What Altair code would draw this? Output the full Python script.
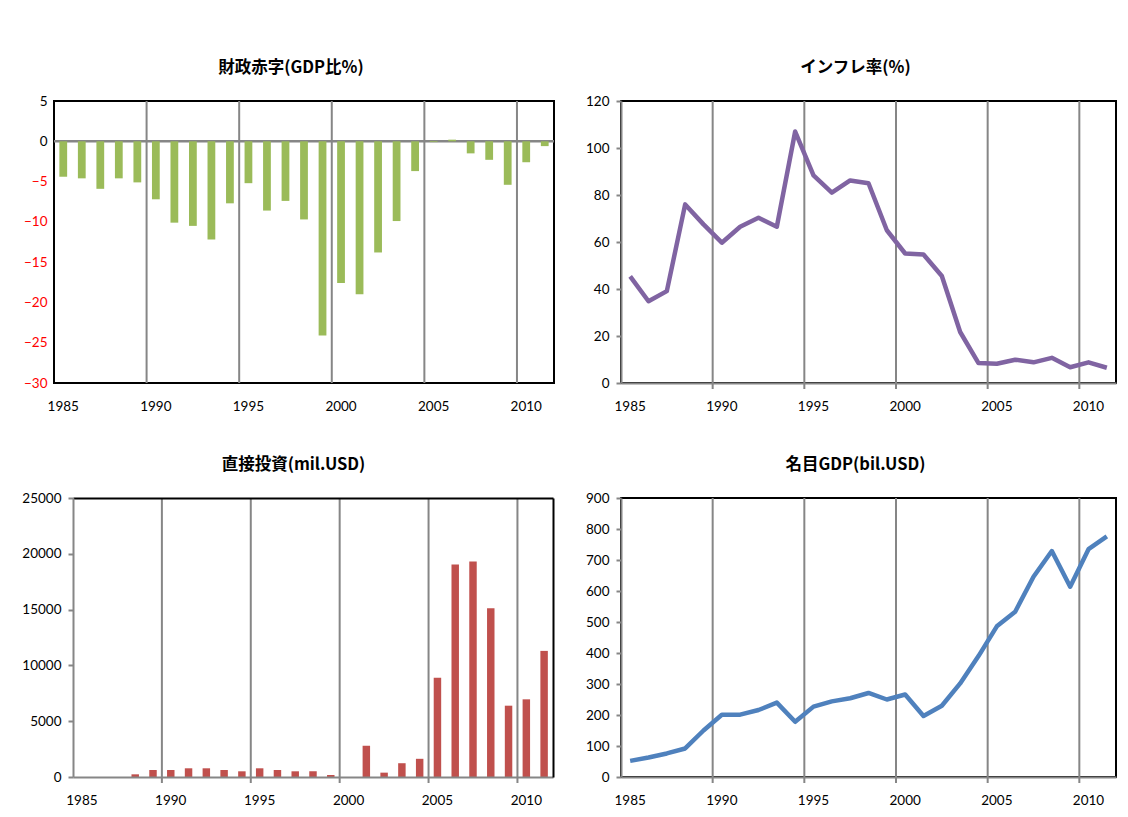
import altair as alt
import pandas as pd

years = list(range(1985, 2012))
deficit = [-4.4, -4.6, -5.9, -4.6, -5.1, -7.2, -10.1, -10.5, -12.2, -7.7, -5.2, -8.6, -7.4, -9.7,
           -24.1, -17.6, -19.0, -13.8, -9.9, -3.7, -0.1, 0.2, -1.5, -2.3, -5.4, -2.6, -0.6]
inflation = [45.4, 34.8, 39.1, 76.0, 67.5, 59.7, 66.5, 70.3, 66.5, 107.0, 88.4, 81.0, 86.2, 85.0,
             65.0, 55.1, 54.7, 45.5, 21.7, 8.5, 8.2, 9.9, 8.8, 10.7, 6.7, 8.8, 6.5]
fdi = [0, 0, 0, 240, 630, 630, 780, 780, 630, 510, 780, 630, 510, 510,
       180, 0, 2800, 390, 1235, 1630, 8890, 19040, 19310, 15120, 6390, 6960, 11300]
gdp = [52, 63, 76, 92, 150, 201, 201, 216, 240, 178, 227, 244, 254, 271,
       250, 266, 197, 230, 302, 390, 486, 533, 646, 729, 614, 735, 776]
grid_years = [1990, 1995, 2000, 2005, 2010]
label_years = [1985, 1990, 1995, 2000, 2005, 2010]
titles = ["財政赤字(GDP比%)", "インフレ率(%)", "直接投資(mil.USD)", "名目GDP(bil.USD)"]

GRAY = "#868686"
LABEL_FONT = "Lato"
TITLE_FONT = "Noto Sans CJK JP"
TICK_PX = 6  # length of the Excel-style tick stub below the category axis


def make_panel(values, kind, color, domain, step, width, height, title, yext,
               neg_red=False, zero_axis=False, shift=0, title_dx=0):
    df = pd.DataFrame({"year": years, "v": values})
    if shift:
        xscale = alt.Scale(type="band", domain=years, paddingInner=0, paddingOuter=0,
                           range=[shift, width])
    else:
        xscale = alt.Scale(type="band", domain=years, paddingInner=0, paddingOuter=0)
    xaxis = alt.Axis(values=label_years, labelAngle=0, title=None, ticks=False, tickSize=0,
                     grid=False, domain=not zero_axis, domainColor=GRAY, domainWidth=2,
                     labelPadding=16, minExtent=32, maxExtent=32, labelFont=LABEL_FONT,
                     labelFontSize=13.5, labelColor="black", zindex=1)
    ylabel_color = (alt.condition("datum.value < 0", alt.value("red"), alt.value("black"))
                    if neg_red else "black")
    yaxis_kw = dict(values=list(range(domain[0], domain[1] + 1, step)), format="d", title=None,
                    grid=False, domain=not zero_axis, ticks=not zero_axis, tickSize=5,
                    tickColor=GRAY, tickWidth=2, domainColor=GRAY, domainWidth=2,
                    labelPadding=7, labelFont=LABEL_FONT,
                    labelFontSize=13.5, labelColor=ylabel_color, zindex=1)
    if shift:
        yaxis = alt.Axis(offset=-shift, minExtent=0, maxExtent=yext, **yaxis_kw)
    else:
        yaxis = alt.Axis(minExtent=yext, maxExtent=yext, **yaxis_kw)
    yscale = alt.Scale(domain=list(domain), nice=False, zero=False)

    # vertical category gridlines at 5-year boundaries (with a short tick stub below the axis)
    lo, hi = domain
    stub = 0 if zero_axis else (hi - lo) * TICK_PX / height
    grid_df = pd.DataFrame({"year": grid_years, "top": [hi] * len(grid_years),
                            "bottom": [lo - stub] * len(grid_years)})
    rules = alt.Chart(grid_df).mark_rule(color=GRAY, strokeWidth=2).encode(
        x=alt.X("year:O", scale=xscale, axis=None if shift else xaxis, bandPosition=0),
        y=alt.Y("top:Q", scale=yscale, axis=None if shift else yaxis),
        y2="bottom:Q",
    )
    layers = [rules]
    if zero_axis:
        zero = alt.Chart(pd.DataFrame({"v": [0]})).mark_rule(color=GRAY, strokeWidth=2.5).encode(
            y=alt.Y("v:Q", scale=yscale, axis=yaxis)
        )
        layers.append(zero)
    if kind == "bar":
        main = alt.Chart(df).mark_bar(color=color, width=alt.RelativeBandSize(0.42)).encode(
            x=alt.X("year:O", scale=xscale, axis=xaxis),
            y=alt.Y("v:Q", scale=yscale, axis=yaxis),
        )
    else:
        main = alt.Chart(df).mark_line(color=color, strokeWidth=4.5, strokeJoin="round").encode(
            x=alt.X("year:O", scale=xscale, axis=xaxis, bandPosition=0.5),
            y=alt.Y("v:Q", scale=yscale, axis=yaxis),
        )
    layers.append(main)
    if shift:
        top_axis = alt.Axis(orient="top", labels=False, ticks=False, grid=False, title=None,
                            domainColor="black", domainWidth=2, zindex=1)
        right_axis = alt.Axis(orient="right", labels=False, ticks=False, grid=False, title=None,
                              domainColor="black", domainWidth=2, zindex=1)
        frame = alt.Chart(df).mark_bar(opacity=0).encode(
            x=alt.X("year:O", scale=xscale, axis=top_axis),
            y=alt.Y("v:Q", scale=yscale, axis=right_axis),
        )
        layers.append(frame)
    out = alt.layer(*layers)
    if shift:
        out = out.resolve_axis(x="independent", y="independent")
    props = dict(
        width=width, height=height,
        title=alt.TitleParams(text=title, font=TITLE_FONT, fontSize=16.5, fontWeight="bold",
                              color="black", anchor="middle", offset=18,
                              frame="group", dx=title_dx),
    )
    if shift:
        props["view"] = alt.ViewBackground(stroke="transparent")
    return out.properties(**props)


p1 = make_panel(deficit, "bar", "#9BBB59", (-30, 5), 5, 500, 282, titles[0], 40,
                neg_red=True, zero_axis=True, title_dx=-13)
p2 = make_panel(inflation, "line", "#8064A2", (0, 120), 20, 495, 282, titles[1], 40,
                title_dx=-13)
p3 = make_panel(fdi, "bar", "#C0504D", (0, 25000), 5000, 499, 279, titles[2], 40, shift=19,
                title_dx=-10)
p4 = make_panel(gdp, "line", "#4F81BD", (0, 900), 100, 495, 279, titles[3], 40,
                title_dx=-13)

row1 = alt.hconcat(p1, p2, spacing=23)
row2 = alt.hconcat(p3, p4, spacing=26)

chart = alt.vconcat(row1, row2, spacing=39).properties(
    padding={"left": 13, "top": 58, "right": 0, "bottom": 0},
    background="white",
).configure_view(stroke="black", strokeWidth=2)

chart.save("out.html", embed_options={"renderer": "svg", "actions": False})
